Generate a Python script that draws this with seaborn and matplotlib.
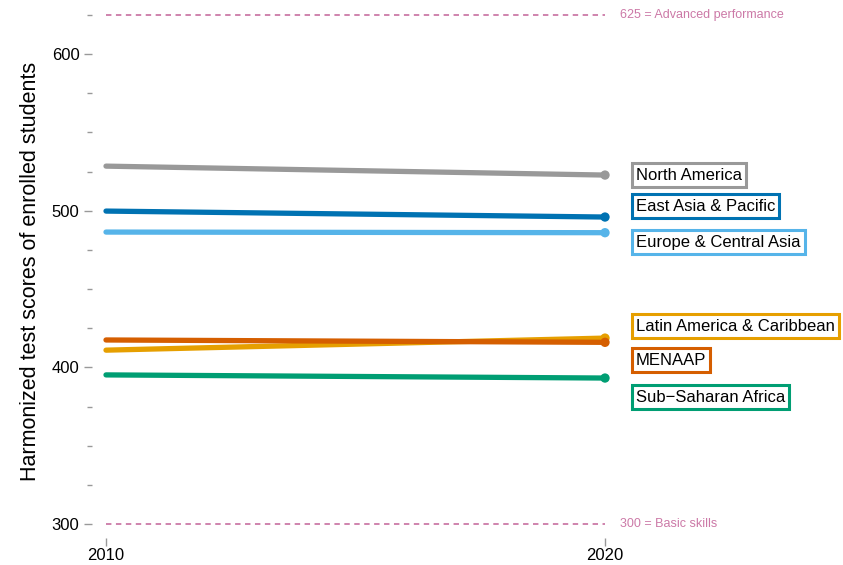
import matplotlib
matplotlib.use("Agg")
import matplotlib.pyplot as plt
import seaborn as sns
import pandas as pd

regions = ["North America", "East Asia & Pacific", "Europe & Central Asia",
           "Latin America & Caribbean", "MENAAP", "Sub\u2212Saharan Africa"]
years = [2010, 2020]
score_2010 = [528.5, 499.8, 486.4, 411.0, 417.5, 395.2]
score_2020 = [522.8, 496.0, 486.0, 418.7, 416.0, 393.2]
label_y = [522.8, 503.0, 480.0, 426.4, 404.7, 381.0]
colors = ["#999999", "#0072B2", "#56B4E9", "#E69F00", "#D55E00", "#009E73"]
ref_values = [625, 300]
ref_labels = ["625 = Advanced performance", "300 = Basic skills"]

rows = []
for r, a, b in zip(regions, score_2010, score_2020):
    rows.append({"region": r, "year": years[0], "score": a})
    rows.append({"region": r, "year": years[1], "score": b})
df = pd.DataFrame(rows)
palette = dict(zip(regions, colors))

sns.set_theme(style="white")
plt.rcParams['font.family'] = ['Liberation Sans', 'DejaVu Sans']

fig = plt.figure(figsize=(8.43, 5.65), dpi=100)
ax = fig.add_axes([92/843, 1 - 538/565, (843 - 92)/843, (538 - 5)/565])

for v, t in zip(ref_values, ref_labels):
    ax.plot(years, [v, v], color="#CC79A7", lw=1.3, ls=(0, (3, 2.5)), zorder=1)
    ax.text(2020.3, v, t, color="#CC79A7", fontsize=9, va="center", ha="left")

sns.lineplot(data=df, x="year", y="score", hue="region", palette=palette,
             hue_order=regions, linewidth=3.8, legend=False, ax=ax, zorder=2)
end = df[df["year"] == years[1]]
sns.scatterplot(data=end, x="year", y="score", hue="region", palette=palette,
                hue_order=regions, s=45, edgecolor="none", legend=False, ax=ax, zorder=3)

for r, y, c in zip(regions, label_y, colors):
    ax.text(2020.62, y, r, fontsize=12, va="center", ha="left", color="black",
            bbox=dict(boxstyle="square,pad=0.25", facecolor="white", edgecolor=c, linewidth=2.2),
            clip_on=False, zorder=4)

x0 = 2010 - 14 / 49.9
x1 = 2010 + (843 - 106) / 49.9
ax.set_xlim(x0, x1)
ppu = 470 / 300
ax.set_ylim(300 - 14 / ppu, 625 + 10 / ppu)
ax.set_xticks(years)
ax.set_xticklabels([str(y) for y in years])
ax.set_yticks([300, 400, 500, 600])
ax.set_yticks([y for y in range(300, 650, 25) if y % 100 != 0], minor=True)

for s in ax.spines.values():
    s.set_visible(False)
ax.tick_params(axis="both", which="major", length=6, width=1, color="#999999",
               labelsize=12, labelcolor="black", bottom=True, left=True, direction="out")
ax.tick_params(axis="x", which="major", pad=1)
ax.tick_params(axis="y", which="major", pad=3)
ax.tick_params(axis="y", which="minor", length=3.5, width=1, color="#999999", left=True, direction="out")
ax.set_xlabel("")
ax.set_ylabel("Harmonized test scores of enrolled students", fontsize=15.5, labelpad=8, color="black")
ax.grid(False)

fig.savefig("out.png", dpi=100)
